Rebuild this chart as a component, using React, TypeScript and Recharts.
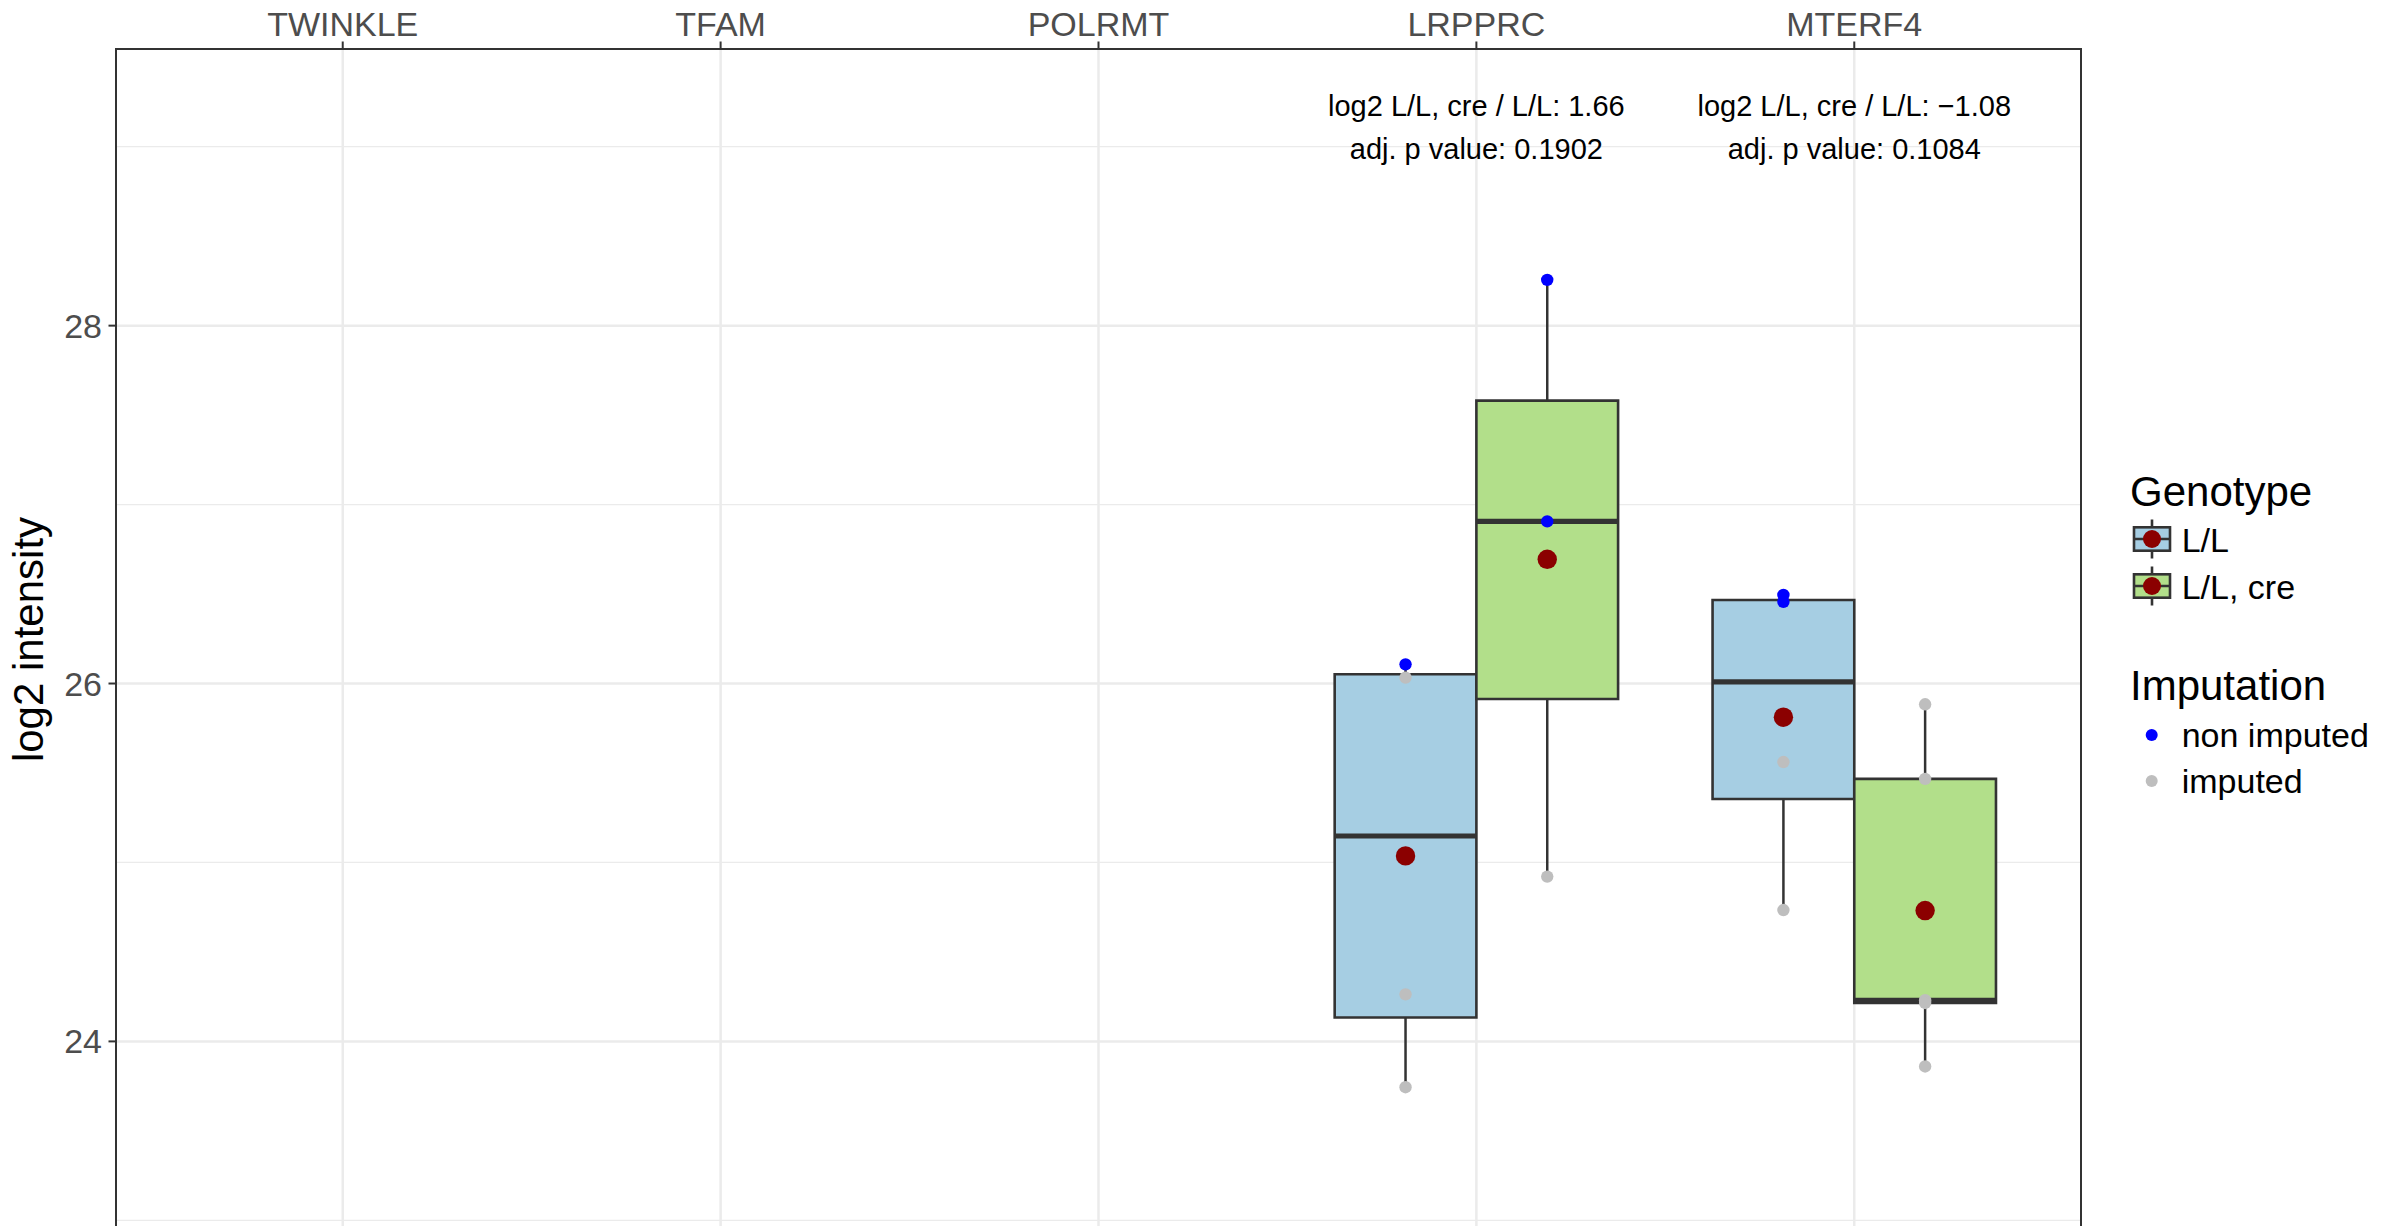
import React from "react";
import {
  ComposedChart,
  XAxis,
  YAxis,
  CartesianGrid,
  ReferenceArea,
  ReferenceLine,
  Scatter,
  Legend,
} from "recharts";

const FONT = '"Liberation Sans", Arial, Helvetica, sans-serif';

const GENES = ["TWINKLE", "TFAM", "POLRMT", "LRPPRC", "MTERF4"];
const GENOTYPES = ["L/L", "L/L, cre"];
const GENOTYPE_FILLS = ["#A6CEE3", "#B2DF8A"];
const IMPUTATION_LABELS = ["non imputed", "imputed"];
const IMPUTATION_COLORS = ["#0000FF", "#BEBEBE"];
const MEAN_COLOR = "#8B0000";

// log2 intensity per sample, only LRPPRC and MTERF4 have values
const LRPPRC_LL = [26.107, 26.033, 24.263, 23.744];
const LRPPRC_LL_IMPUTED = [false, true, true, true];
const LRPPRC_CRE = [28.256, 26.906, 24.921];
const LRPPRC_CRE_IMPUTED = [false, false, true];
const MTERF4_LL = [26.495, 26.457, 25.561, 24.734];
const MTERF4_LL_IMPUTED = [false, false, true, true];
const MTERF4_CRE = [25.884, 25.467, 24.23, 24.215, 23.86];
const MTERF4_CRE_IMPUTED = [true, true, true, true, true];

const ANNOT_GENES = ["LRPPRC", "MTERF4"];
const ANNOT_LOGFC = ["1.66", "\u22121.08"];
const ANNOT_PVAL = ["0.1902", "0.1084"];
const ANNOT_Y = 29.17;

const Y_TICKS = [24, 26, 28];
const Y_MINOR = [23, 25, 27, 29];
const Y_DOMAIN: [number, number] = [22.946, 29.546];
const X_DOMAIN: [number, number] = [0.4, 5.6];

const BOX_W = 0.375; // dodge width 0.75 split over two genotypes

const GROUPS = [
  { gene: "LRPPRC", g: 0, values: LRPPRC_LL, imputed: LRPPRC_LL_IMPUTED },
  { gene: "LRPPRC", g: 1, values: LRPPRC_CRE, imputed: LRPPRC_CRE_IMPUTED },
  { gene: "MTERF4", g: 0, values: MTERF4_LL, imputed: MTERF4_LL_IMPUTED },
  { gene: "MTERF4", g: 1, values: MTERF4_CRE, imputed: MTERF4_CRE_IMPUTED },
];

function quantile(sorted: number[], p: number) {
  const h = (sorted.length - 1) * p;
  const lo = Math.floor(h);
  const hi = Math.ceil(h);
  return sorted[lo] + (h - lo) * (sorted[hi] - sorted[lo]);
}

const boxes = GROUPS.map((grp) => {
  const s = [...grp.values].sort((a, b) => a - b);
  const q1 = quantile(s, 0.25);
  const q3 = quantile(s, 0.75);
  const iqr = q3 - q1;
  const inside = s.filter((v) => v >= q1 - 1.5 * iqr && v <= q3 + 1.5 * iqr);
  const cx = GENES.indexOf(grp.gene) + 1 + (grp.g - 0.5) * BOX_W;
  return {
    ...grp,
    cx,
    x1: cx - BOX_W / 2,
    x2: cx + BOX_W / 2,
    q1,
    q3,
    median: quantile(s, 0.5),
    lo: inside[0],
    hi: inside[inside.length - 1],
    mean: s.reduce((a, b) => a + b, 0) / s.length,
  };
});

const pointsFor = (imputed: boolean) =>
  boxes.flatMap((b) =>
    b.values
      .map((v, i) => ({ x: b.cx, y: v, imp: b.imputed[i] }))
      .filter((p) => p.imp === imputed)
  );

const nonImputedPts = pointsFor(false);
const imputedPts = pointsFor(true);
const meanPts = boxes.map((b) => ({ x: b.cx, y: b.mean }));
const annotPts = ANNOT_GENES.map((g, i) => ({
  x: GENES.indexOf(g) + 1,
  y: ANNOT_Y,
  fc: ANNOT_LOGFC[i],
  p: ANNOT_PVAL[i],
}));

const dot = (r: number, fill: string) => (props: any) =>
  <circle cx={props.cx} cy={props.cy} r={r} fill={fill} />;

const annotShape = (props: any) => {
  const { cx, cy, payload } = props;
  return (
    <text x={cx} y={cy} textAnchor="middle" fontSize={29} fontFamily={FONT} fill="#000">
      <tspan x={cx}>{`log2 L/L, cre / L/L: ${payload.fc}`}</tspan>
      <tspan x={cx} dy={42.6}>{`adj. p value: ${payload.p}`}</tspan>
    </text>
  );
};

const yTitle = (props: any) => {
  const vb = props.viewBox || { x: 0, y: 49, width: 116, height: 1181 };
  const cy = vb.y + vb.height / 2;
  const x = 43;
  return (
    <text
      x={x}
      y={cy}
      transform={`rotate(-90, ${x}, ${cy})`}
      textAnchor="middle"
      fontSize={42}
      fontFamily={FONT}
      fill="#000"
    >
      log2 intensity
    </text>
  );
};

const renderLegend = () => (
  <svg width={284} height={380} style={{ display: "block" }} fontFamily={FONT}>
    <text x={30} y={65.7} fontSize={42} fill="#000">Genotype</text>
    {GENOTYPES.map((lab, i) => {
      const cy = 99 + i * 47;
      return (
        <g key={lab}>
          <line x1={52} x2={52} y1={cy - 19.5} y2={cy + 19.5} stroke="#333333" strokeWidth={2.6} />
          <rect x={34} y={cy - 11.7} width={36} height={23.4} fill={GENOTYPE_FILLS[i]} stroke="#333333" strokeWidth={2.6} />
          <line x1={34} x2={70} y1={cy} y2={cy} stroke="#333333" strokeWidth={2.6} />
          <circle cx={52} cy={cy} r={9} fill={MEAN_COLOR} />
          <text x={81.7} y={cy + 12.5} fontSize={34} fill="#000">{lab}</text>
        </g>
      );
    })}
    <text x={30} y={260} fontSize={42} fill="#000">Imputation</text>
    {IMPUTATION_LABELS.map((lab, i) => {
      const cy = 295 + i * 46;
      return (
        <g key={lab}>
          <circle cx={51.7} cy={cy} r={6} fill={IMPUTATION_COLORS[i]} />
          <text x={81.7} y={cy + 11.5} fontSize={34} fill="#000">{lab}</text>
        </g>
      );
    })}
  </svg>
);

const tickStyle = { fill: "#4D4D4D", fontSize: 34, fontFamily: FONT };
const tickLine = { stroke: "#333333", strokeWidth: 2 };

export default function App() {
  return (
    <div
      style={{
        position: "absolute",
        left: 0,
        top: 0,
        width: 2384,
        height: 1226,
        overflow: "hidden",
        background: "#fff",
      }}
    >
      <ComposedChart
        width={2384}
        height={1230}
        margin={{ top: 0, right: 303, bottom: 0, left: 0 }}
      >
        <CartesianGrid
          horizontalValues={Y_MINOR}
          vertical={false}
          stroke="#EBEBEB"
          strokeWidth={1.3}
        />
        <CartesianGrid
          horizontalValues={Y_TICKS}
          verticalValues={[1, 2, 3, 4, 5]}
          stroke="#EBEBEB"
          strokeWidth={2.5}
        />
        <XAxis
          dataKey="x"
          type="number"
          orientation="top"
          domain={X_DOMAIN}
          allowDataOverflow
          ticks={[1, 2, 3, 4, 5]}
          interval={0}
          tickFormatter={(v: number) => GENES[v - 1]}
          height={49}
          axisLine={false}
          tickLine={tickLine}
          tickSize={7.5}
          tickMargin={6}
          tick={tickStyle}
        />
        <YAxis
          dataKey="y"
          type="number"
          domain={Y_DOMAIN}
          allowDataOverflow
          ticks={Y_TICKS}
          interval={0}
          width={116}
          axisLine={false}
          tickLine={tickLine}
          tickSize={7.5}
          tickMargin={6.5}
          tick={tickStyle}
          label={{ content: yTitle }}
        />
        <ReferenceArea
          x1={X_DOMAIN[0]}
          x2={X_DOMAIN[1]}
          y1={Y_DOMAIN[0]}
          y2={Y_DOMAIN[1]}
          fill="none"
          fillOpacity={0}
          stroke="#333333"
          strokeWidth={2}
        />
        {boxes.map((b, i) => (
          <ReferenceLine
            key={`wu${i}`}
            segment={[{ x: b.cx, y: b.q3 }, { x: b.cx, y: b.hi }]}
            stroke="#333333"
            strokeWidth={2.5}
          />
        ))}
        {boxes.map((b, i) => (
          <ReferenceLine
            key={`wl${i}`}
            segment={[{ x: b.cx, y: b.q1 }, { x: b.cx, y: b.lo }]}
            stroke="#333333"
            strokeWidth={2.5}
          />
        ))}
        {boxes.map((b, i) => (
          <ReferenceArea
            key={`box${i}`}
            x1={b.x1}
            x2={b.x2}
            y1={b.q1}
            y2={b.q3}
            fill={GENOTYPE_FILLS[b.g]}
            fillOpacity={1}
            stroke="#333333"
            strokeWidth={2.6}
          />
        ))}
        {boxes.map((b, i) => (
          <ReferenceLine
            key={`med${i}`}
            segment={[{ x: b.x1, y: b.median }, { x: b.x2, y: b.median }]}
            stroke="#333333"
            strokeWidth={5.2}
          />
        ))}
        <Scatter data={imputedPts} shape={dot(6.2, IMPUTATION_COLORS[1])} isAnimationActive={false} />
        <Scatter data={nonImputedPts} shape={dot(6.2, IMPUTATION_COLORS[0])} isAnimationActive={false} />
        <Scatter data={meanPts} shape={dot(9.7, MEAN_COLOR)} isAnimationActive={false} />
        <Scatter data={annotPts} shape={annotShape} isAnimationActive={false} />
        <Legend
          layout="vertical"
          align="center"
          verticalAlign="middle"
          content={renderLegend}
          wrapperStyle={{ left: 2100, top: 440, width: 284, height: 380, right: "auto", bottom: "auto" }}
        />
      </ComposedChart>
    </div>
  );
}
